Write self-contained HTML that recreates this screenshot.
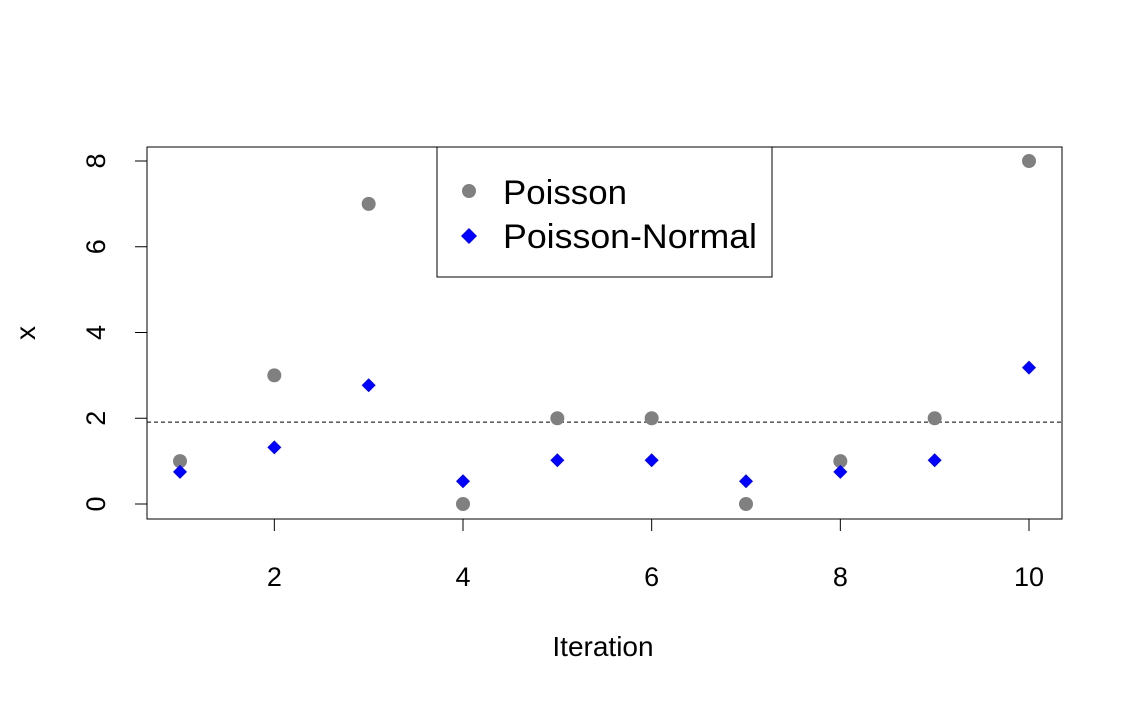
<!DOCTYPE html>
<html><head><meta charset="utf-8"><style>body{margin:0;background:#fff}svg{display:block;font-family:"Liberation Sans",Arial,sans-serif}</style></head>
<body>
<svg id="chart" width="1138" height="703">
<rect x="147" y="147" width="915" height="372" fill="none" stroke="#000" stroke-width="1"/>
<g id="axes"></g>
<g id="marks"></g>
<text x="603" y="656" font-size="28" text-anchor="middle">Iteration</text>
<text transform="translate(35,333) rotate(-90)" font-size="28" text-anchor="middle">x</text>
<g>
<rect x="437" y="147" width="335" height="130" fill="#fff" stroke="#000"/>
<circle cx="469" cy="191" r="7" fill="#808080"/>
<text x="503" y="204" font-size="34" textLength="124" lengthAdjust="spacingAndGlyphs">Poisson</text>
<path d="M469,228 L477,236 L469,244 L461,236 Z" fill="#0000ff"/>
<text x="503" y="248" font-size="34" textLength="254" lengthAdjust="spacingAndGlyphs">Poisson-Normal</text>
</g>
</svg>
<script>
const iterations=[1,2,3,4,5,6,7,8,9,10];
const poisson=[1,3,7,0,2,2,0,1,2,8];
const poissonNormal=[0.75,1.32,2.77,0.53,1.02,1.02,0.53,0.75,1.02,3.18];
const refLine=1.91;
const xTicks=[2,4,6,8,10];
const yTicks=[0,2,4,6,8];
const NS="http://www.w3.org/2000/svg";
const xs=v=>180+(v-1)*(1029-180)/9;
const ys=v=>504-v*(504-161)/8;
const axes=document.getElementById('axes'),marks=document.getElementById('marks');
function mk(tag,attrs,parent){const e=document.createElementNS(NS,tag);for(const k in attrs)e.setAttribute(k,attrs[k]);parent.appendChild(e);return e;}
mk('line',{x1:xs(2),x2:xs(10),y1:519,y2:519,stroke:'#000'},axes);
xTicks.forEach(t=>{
 const l=mk('line',{x1:xs(t),x2:xs(t),y1:519,y2:531,stroke:'#000'},axes);
 
 
 const tx=mk('text',{x:xs(t),y:586,'font-size':27,'text-anchor':'middle'},axes);tx.textContent=t;
 
 
});
mk('line',{x1:147,x2:147,y1:ys(0),y2:ys(8),stroke:'#000'},axes);
yTicks.forEach(t=>{
 const l=mk('line',{x1:135,x2:147,y1:ys(t),y2:ys(t),stroke:'#000'},axes);
 
 
 const tx=mk('text',{transform:`translate(105,${ys(t)}) rotate(-90)`,'font-size':27,'text-anchor':'middle'},axes);tx.textContent=t;
 
 
});
const rl=mk('line',{x1:147,x2:1062,y1:ys(refLine),y2:ys(refLine),stroke:'#000','stroke-dasharray':'4,3'},marks);


iterations.forEach((it,i)=>{
 const c=mk('circle',{cx:xs(it),cy:ys(poisson[i]),r:7,fill:'#808080'},marks);
 
 
});
iterations.forEach((it,i)=>{
 const x=xs(it),y=ys(poissonNormal[i]);
 const p=mk('path',{d:`M${x},${y-7} L${x+7},${y} L${x},${y+7} L${x-7},${y} Z`,fill:'#0000ff'},marks);
 
 
});
</script>
</body></html>
